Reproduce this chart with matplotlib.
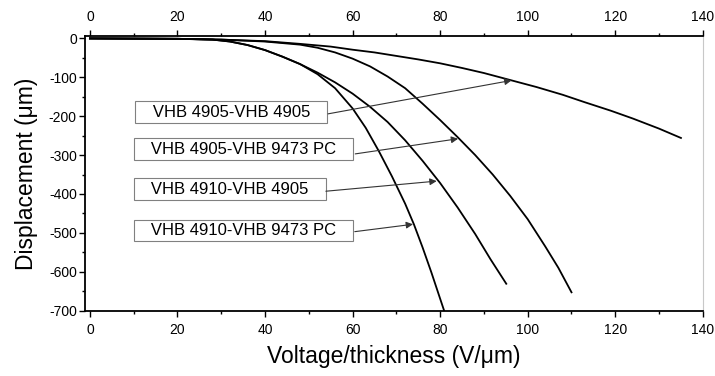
import matplotlib
matplotlib.use('Agg')
import matplotlib.pyplot as plt
from matplotlib.ticker import MultipleLocator

plt.rcParams['font.family'] = ['Liberation Sans', 'DejaVu Sans']
plt.rcParams['axes.unicode_minus'] = False

# values (x in V/um, y in um)
x_4905_4905 = [0, 10, 20, 30, 40, 48, 55, 60, 65, 70, 75, 80, 85, 90, 96, 102, 108, 113, 119, 124, 130, 135]
y_4905_4905 = [0, -0.5, -1, -3, -7, -14, -21, -29, -36, -45, -54, -64, -76, -89, -107, -125, -145, -164, -186, -206, -232, -256]

x_4905_9473 = [0, 10, 20, 30, 40, 48, 52, 56, 60, 64, 68, 72, 76, 80, 84, 88, 92, 96, 100, 104, 107, 110]
y_4905_9473 = [0, -0.5, -1, -3, -8, -16, -24, -36, -52, -72, -98, -128, -168, -210, -254, -300, -350, -405, -465, -535, -590, -653]

x_4910_4905 = [0, 10, 20, 28, 32, 36, 40, 44, 48, 52, 56, 60, 64, 68, 72, 76, 80, 84, 88, 91.5, 95.1]
y_4910_4905 = [0, -0.5, -1, -3, -8, -17, -30, -47, -66, -88, -113, -142, -176, -215, -262, -315, -372, -435, -503, -568, -631]

x_4910_9473 = [0, 10, 20, 28, 32, 36, 40, 44, 48, 52, 56, 60, 63, 66, 69, 72, 74, 76, 78, 80.9]
y_4910_9473 = [0, -0.5, -1, -3, -8, -17, -30, -47, -66, -92, -128, -180, -230, -290, -355, -425, -478, -538, -602, -700]

labels = ['VHB 4905-VHB 4905', 'VHB 4905-VHB 9473 PC', 'VHB 4910-VHB 4905', 'VHB 4910-VHB 9473 PC']
box_centers = [(32.3, -190), (35.1, -285), (31.9, -388), (35.1, -494)]
arrow_starts = [(54.4, -194), (60.6, -297), (53.9, -393), (60.5, -497)]
arrow_tips = [(96.3, -108), (84.1, -258), (79.2, -367), (73.8, -478)]


def main():
    fig = plt.figure(figsize=(7.15, 3.76), dpi=100)
    ax = fig.add_axes([0.119, 0.174, 0.864, 0.730])

    curves = [(x_4905_4905, y_4905_4905), (x_4905_9473, y_4905_9473),
              (x_4910_4905, y_4910_4905), (x_4910_9473, y_4910_9473)]
    for xs, ys in curves:
        ax.plot(xs, ys, color='black', lw=1.3)

    ax.set_xlim(-1.1, 140)
    ax.set_ylim(-700, 6)
    ax.xaxis.set_major_locator(MultipleLocator(20))
    ax.xaxis.set_minor_locator(MultipleLocator(10))
    ax.yaxis.set_major_locator(MultipleLocator(100))
    ax.yaxis.set_minor_locator(MultipleLocator(50))
    ax.tick_params(which='both', direction='out', top=True, labeltop=True,
                   right=False, labelsize=10, width=1)
    ax.tick_params(which='major', length=4)
    ax.tick_params(which='minor', length=2.5)
    ax.tick_params(axis='x', pad=5)
    ax.tick_params(axis='y', pad=2)
    for side in ['left', 'bottom', 'top']:
        ax.spines[side].set_linewidth(1.3)
    ax.spines['right'].set_color('#c8c8c8')

    ax.set_xlabel('Voltage/thickness (V/\u03bcm)', fontsize=16.5, labelpad=6)
    ax.set_ylabel('Displacement (\u03bcm)', fontsize=16.5, labelpad=8)

    # label boxes with arrows pointing at each curve
    for label, center, start, tip in zip(labels, box_centers, arrow_starts, arrow_tips):
        ax.text(center[0], center[1], '   ' + label + '   ', ha='center', va='center',
                fontsize=12, bbox=dict(boxstyle='square,pad=0.2', fc='white',
                                       ec='#808080', lw=0.8))
        ax.annotate('', xy=tip, xytext=start,
                    arrowprops=dict(arrowstyle='-|>', color='#333333', lw=0.8,
                                    mutation_scale=10, shrinkA=0, shrinkB=0))

    fig.savefig('out.png', dpi=100)
    plt.close(fig)


if __name__ == "__main__":
    main()
